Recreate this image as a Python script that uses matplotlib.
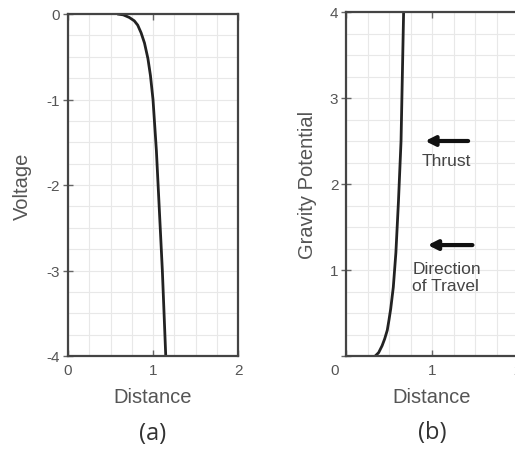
import numpy as np
import matplotlib.pyplot as plt

plt.rcParams['font.family'] = ['Liberation Sans', 'DejaVu Sans']

# panel (a): voltage vs distance
dist_a = [0.58, 0.65, 0.72, 0.78, 0.82, 0.86, 0.90, 0.94, 0.97, 1.00, 1.04, 1.08, 1.11, 1.15]
volt_a = [0.0, -0.01, -0.04, -0.08, -0.13, -0.22, -0.34, -0.52, -0.72, -1.0, -1.6, -2.4, -3.0, -4.0]

# panel (b): gravity potential vs distance
dist_b = [0.34, 0.38, 0.42, 0.45, 0.48, 0.50, 0.52, 0.55, 0.58, 0.61, 0.64, 0.67]
grav_b = [0.0, 0.04, 0.12, 0.2, 0.3, 0.42, 0.55, 0.8, 1.2, 1.8, 2.5, 4.0]

txt = '#555555'
spine = '#444444'

fig = plt.figure(figsize=(5.15, 4.6), dpi=100)
ax1 = fig.add_axes([68/515, 103/460, 170/515, 342/460])
ax2 = fig.add_axes([346/515, 103/460, 172/515, 344/460])

def style(ax, xlim, ylim, yt):
    ax.set_xlim(*xlim)
    ax.set_ylim(*ylim)
    for v in np.arange(xlim[0], xlim[1] + 0.01, 0.25):
        ax.axvline(v, color='#e8e8e8', lw=0.8, zorder=0)
    for v in np.arange(ylim[0], ylim[1] + 0.01, 0.25):
        ax.axhline(v, color='#e8e8e8', lw=0.8, zorder=0)
    for s in ax.spines.values():
        s.set_color(spine)
        s.set_linewidth(1.6)
    ax.set_xticks([0, 1, 2])
    ax.set_yticks(yt)
    ax.tick_params(axis='x', direction='in', top=True, length=4, width=1,
                   color='#666666', labelsize=11, labelcolor=txt, pad=5)
    ax.tick_params(axis='y', direction='inout', length=7, width=1,
                   color='#666666', labelsize=11, labelcolor=txt, pad=2)

style(ax1, (0, 2), (-4, 0), [-4, -3, -2, -1, 0])
ax1.plot(dist_a, volt_a, color='#222222', lw=2, solid_capstyle='butt')
ax1.set_yticklabels(['-4', '-3', '-2', '-1', '0'])
ax1.set_xlabel('Distance', fontsize=14.5, color=txt)
ax1.set_ylabel('Voltage', fontsize=14.5, color=txt)
ax1.xaxis.set_label_coords(0.5, -0.09)
ax1.yaxis.set_label_coords(-0.21, 0.5)

style(ax2, (0, 2), (0, 4), [0, 1, 2, 3, 4])
ax2.plot(dist_b, grav_b, color='#222222', lw=2, solid_capstyle='butt')
ax2.set_xticklabels(['', '1', '2'])
ax2.set_yticklabels(['', '1', '2', '3', '4'])
ax2.text(-0.064, -0.04, '0', transform=ax2.transAxes, ha='center', va='center',
         fontsize=11, color=txt)
ax2.set_xlabel('Distance', fontsize=14.5, color=txt)
ax2.set_ylabel('Gravity Potential', fontsize=14.5, color=txt)
ax2.xaxis.set_label_coords(0.5, -0.09)
ax2.yaxis.set_label_coords(-0.17, 0.5)

arrow = dict(arrowstyle='-|>', color='#111111', lw=3, mutation_scale=14,
             shrinkA=0, shrinkB=0)
ax2.annotate('', xy=(0.92, 2.5), xytext=(1.42, 2.5), arrowprops=arrow)
ax2.text(1.17, 2.27, 'Thrust', fontsize=12.5, color='#444444', ha='center', va='center')
ax2.annotate('', xy=(0.95, 1.29), xytext=(1.47, 1.29), arrowprops=arrow)
ax2.text(0.77, 0.92, 'Direction\nof Travel', fontsize=12.5, color='#444444',
         ha='left', va='center', linespacing=1.15)

fig.text(153/515, 1 - 434/460, '(a)', fontsize=17, color='#333333',
         ha='center', va='center', family='Open Sans')
fig.text(432/515, 1 - 433/460, '(b)', fontsize=17, color='#333333',
         ha='center', va='center', family='Open Sans')

fig.savefig('out.png', dpi=100)
